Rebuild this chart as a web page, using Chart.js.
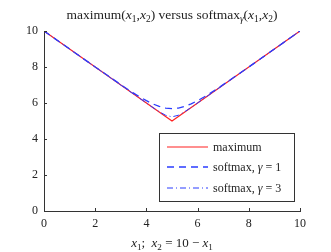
<!DOCTYPE html>
<html>
<head>
<meta charset="utf-8">
<script src="https://cdn.jsdelivr.net/npm/chart.js@4/dist/chart.umd.min.js"></script>
<style>
  html, body { margin: 0; padding: 0; background: #fff; }
  #wrap { width: 331px; height: 252px; }
</style>
</head>
<body>
<div id="wrap"><canvas id="chart" width="331" height="252"></canvas></div>
<script>
// ---------------------------------------------------------------------------
// Data
// ---------------------------------------------------------------------------

const xValues = [0, 1, 2, 2.5, 3, 3.25, 3.5, 3.75, 4, 4.25, 4.5, 4.75, 5,
                 5.25, 5.5, 5.75, 6, 6.25, 6.5, 6.75, 7, 7.5, 8, 9, 10];

const maximumValues = [10, 9, 8, 7.5, 7, 6.75, 6.5, 6.25, 6, 5.75, 5.5, 5.25, 5,
                       5.25, 5.5, 5.75, 6, 6.25, 6.5, 6.75, 7, 7.5, 8, 9, 10];

const softmax1Values = [10, 9.0, 8.0, 7.51, 7.02, 6.78, 6.55, 6.33, 6.13, 5.95, 5.81, 5.72, 5.69,
                        5.72, 5.81, 5.95, 6.13, 6.33, 6.55, 6.78, 7.02, 7.51, 8.0, 9.0, 10];

const softmax3Values = [10, 9, 8, 7.5, 7, 6.75, 6.5, 6.25, 6.0, 5.75, 5.52, 5.32, 5.23,
                        5.32, 5.52, 5.75, 6.0, 6.25, 6.5, 6.75, 7, 7.5, 8, 9, 10];

const xTicks = [0, 2, 4, 6, 8, 10];
const yTicks = [0, 2, 4, 6, 8, 10];

// ---------------------------------------------------------------------------
// Helpers
// ---------------------------------------------------------------------------

const SERIF = '"Liberation Serif", "DejaVu Serif", serif';
const INK = '#222';

const toPoints = ys => xValues.map((x, i) => ({ x, y: ys[i] }));

// draw a run of text pieces: {t, it (italic), sub (subscript)}
function richWidth(ctx, parts, size) {
  let w = 0;
  for (const p of parts) {
    const s = p.sub ? size * 0.7 : size;
    ctx.font = `${p.it ? 'italic ' : ''}${s}px ${SERIF}`;
    w += ctx.measureText(p.t).width;
  }
  return w;
}

function drawRich(ctx, parts, x, y, size, align) {
  let cx = align === 'center' ? x - richWidth(ctx, parts, size) / 2 : x;
  ctx.textBaseline = 'alphabetic';
  ctx.textAlign = 'left';
  ctx.fillStyle = INK;
  for (const p of parts) {
    const s = p.sub ? size * 0.7 : size;
    ctx.font = `${p.it ? 'italic ' : ''}${s}px ${SERIF}`;
    ctx.fillText(p.t, cx, p.sub ? y + size * 0.22 : y);
    cx += ctx.measureText(p.t).width;
  }
}

const titleParts = [
  { t: 'maximum(' }, { t: 'x', it: true }, { t: '1', sub: true }, { t: ',' },
  { t: 'x', it: true }, { t: '2', sub: true }, { t: ') versus softmax' },
  { t: 'γ', it: true, sub: true }, { t: '(' }, { t: 'x', it: true }, { t: '1', sub: true },
  { t: ',' }, { t: 'x', it: true }, { t: '2', sub: true }, { t: ')' },
];

const xLabelParts = [
  { t: 'x', it: true }, { t: '1', sub: true }, { t: ';  ' }, { t: 'x', it: true },
  { t: '2', sub: true }, { t: ' = 10 − ' }, { t: 'x', it: true }, { t: '1', sub: true },
];

const legendRows = [
  [{ t: 'maximum' }],
  [{ t: 'softmax, ' }, { t: 'γ', it: true }, { t: ' = 1' }],
  [{ t: 'softmax, ' }, { t: 'γ', it: true }, { t: ' = 3' }],
];

// ---------------------------------------------------------------------------
// Plugin: title, axis label, inward ticks, legend box
// ---------------------------------------------------------------------------

const decorations = {
  id: 'decorations',
  afterDraw(chart) {
    const { ctx, chartArea, scales } = chart;
    ctx.save();

    // inward tick marks
    ctx.strokeStyle = '#333';
    ctx.lineWidth = 1;
    ctx.beginPath();
    for (const v of xTicks) {
      const px = Math.round(scales.x.getPixelForValue(v)) + 0.5;
      ctx.moveTo(px, chartArea.bottom);
      ctx.lineTo(px, chartArea.bottom - 3);
    }
    for (const v of yTicks) {
      const py = Math.round(scales.y.getPixelForValue(v)) + 0.5;
      ctx.moveTo(chartArea.left, py);
      ctx.lineTo(chartArea.left + 3, py);
    }
    ctx.stroke();

    // title and x label
    const midX = (chartArea.left + chartArea.right) / 2;
    drawRich(ctx, titleParts, midX, 19, 13.5, 'center');
    drawRich(ctx, xLabelParts, midX, 247, 13, 'center');

    // legend box, lower right
    const bx = 159.5, by = 133.5, bw = 135, bh = 68;
    ctx.fillStyle = '#fff';
    ctx.fillRect(bx, by, bw, bh);
    ctx.strokeStyle = '#333';
    ctx.lineWidth = 1;
    ctx.strokeRect(bx, by, bw, bh);

    const rowY = [147, 167, 188];
    chart.data.datasets.forEach((ds, i) => {
      ctx.beginPath();
      ctx.strokeStyle = ds.borderColor;
      ctx.lineWidth = ds.borderWidth;
      ctx.setLineDash(ds.borderDash || []);
      ctx.moveTo(167, rowY[i]);
      ctx.lineTo(208, rowY[i]);
      ctx.stroke();
      ctx.setLineDash([]);
      drawRich(ctx, legendRows[i], 213, rowY[i] + 4, 12, 'left');
    });

    ctx.restore();
  },
};

// ---------------------------------------------------------------------------
// Chart
// ---------------------------------------------------------------------------

new Chart(document.getElementById('chart'), {
  type: 'line',
  data: {
    datasets: [
      {
        label: 'maximum',
        data: toPoints(maximumValues),
        borderColor: '#ff2020',
        borderWidth: 1.2,
        order: 2,
      },
      {
        label: 'softmax, γ = 1',
        data: toPoints(softmax1Values),
        borderColor: '#2b3cff',
        borderWidth: 1.3,
        borderDash: [7, 5],
        order: 1,
      },
      {
        label: 'softmax, γ = 3',
        data: toPoints(softmax3Values),
        borderColor: '#2b3cff',
        borderWidth: 1,
        borderDash: [6, 3, 1, 3],
        order: 0,
      },
    ],
  },
  options: {
    responsive: false,
    animation: false,
    layout: { padding: { left: 0, right: 31, top: 31, bottom: 0 } },
    elements: { point: { radius: 0 }, line: { tension: 0 } },
    plugins: { legend: { display: false }, title: { display: false }, tooltip: { enabled: false } },
    scales: {
      x: {
        type: 'linear',
        min: 0,
        max: 10,
        afterFit: s => { s.height = 41; },
        afterBuildTicks: s => { s.ticks = xTicks.map(v => ({ value: v })); },
        grid: { display: false, drawTicks: false },
        border: { display: true, color: '#333', width: 1 },
        ticks: { color: INK, font: { family: SERIF, size: 12 }, padding: 6, maxRotation: 0 },
      },
      y: {
        type: 'linear',
        min: 0,
        max: 10,
        afterFit: s => { s.width = 44; },
        afterBuildTicks: s => { s.ticks = yTicks.map(v => ({ value: v })); },
        grid: { display: false, drawTicks: false },
        border: { display: true, color: '#333', width: 1 },
        ticks: { color: INK, font: { family: SERIF, size: 12 }, padding: 6 },
      },
    },
  },
  plugins: [decorations],
});
</script>
</body>
</html>
